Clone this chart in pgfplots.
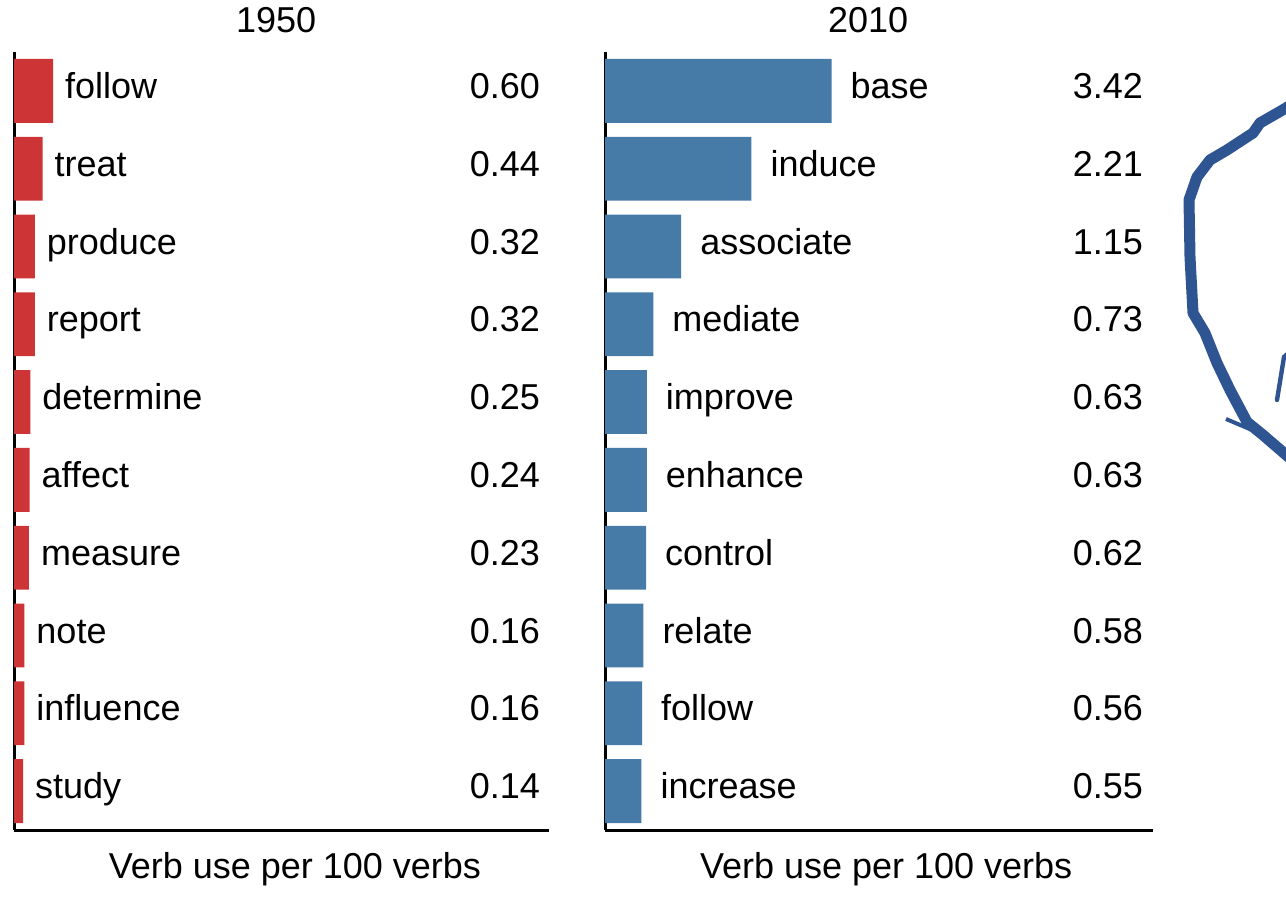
\documentclass[border=0pt]{standalone}
\usepackage{fontspec}
\setmainfont{Liberation Sans}
\usepackage{pgfplots}
\usepackage{pgfplotstable}
\pgfplotsset{compat=1.18}
\definecolor{barred}{RGB}{204,52,54}
\definecolor{barblue}{RGB}{70,122,167}
\definecolor{penblue}{RGB}{47,84,146}
\newcommand\myfont{\fontsize{18}{21.6}\selectfont}

\pgfplotstableread{
y v w
0 0.60 follow
1 0.44 treat
2 0.32 produce
3 0.32 report
4 0.25 determine
5 0.24 affect
6 0.23 measure
7 0.16 note
8 0.16 influence
9 0.14 study
}\leftdata

\pgfplotstableread{
y v w
0 3.42 base
1 2.21 induce
2 1.15 associate
3 0.73 mediate
4 0.63 improve
5 0.63 enhance
6 0.62 control
7 0.58 relate
8 0.56 follow
9 0.55 increase
}\rightdata

\tikzset{lbl/.style={font=\myfont, text height=13.2pt, text depth=3.8pt, black}}
\pgfplotsset{
  panel/.style={
    scale only axis, height=389pt,
    ymin=-0.5, ymax=9.5, y dir=reverse, xmin=0,
    axis x line=bottom, axis y line=left,
    axis line style={-, line width=1.5pt, black},
    xtick=\empty, ytick=\empty, clip=false, anchor=south west,
    font=\myfont,
  },
}

\begin{document}
\begin{tikzpicture}
\useasboundingbox (0,0) rectangle (643pt,449.5pt);

\begin{axis}[panel, at={(7pt,34.5pt)}, width=267.5pt, xmax=8.23]
\addplot[xbar, bar width=0.82, fill=barred, draw=none,
  nodes near coords, point meta=explicit symbolic,
  every node near coord/.append style={lbl, anchor=west, xshift=2.5pt, yshift=0.9pt}]
  table[x=v, y=y, meta=w]{\leftdata};
\addplot[draw=none, mark=none,
  nodes near coords, point meta=explicit symbolic,
  every node near coord/.append style={lbl, anchor=east, xshift=-1pt, yshift=0.9pt}]
  table[x expr=8.23, y=y, meta=v]{\leftdata};
\node[anchor=base, font=\myfont] at (axis description cs:0.49,1) [yshift=9.5pt] {1950};
\node[anchor=base, font=\myfont] at (axis description cs:0.525,0) [yshift=-24pt] {Verb use per 100 verbs};
\end{axis}

\begin{axis}[panel, at={(302.5pt,34.5pt)}, width=274pt, xmax=8.27]
\addplot[xbar, bar width=0.82, fill=barblue, draw=none,
  nodes near coords, point meta=explicit symbolic,
  every node near coord/.append style={lbl, anchor=west, xshift=6pt, yshift=0.9pt}]
  table[x=v, y=y, meta=w]{\rightdata};
\addplot[draw=none, mark=none,
  nodes near coords, point meta=explicit symbolic,
  every node near coord/.append style={lbl, anchor=east, xshift=-1.5pt, yshift=0.9pt}]
  table[x expr=8.27, y=y, meta=v]{\rightdata};
\node[anchor=base, font=\myfont] at (axis description cs:0.48,1) [yshift=9.5pt] {2010};
\node[anchor=base, font=\myfont] at (axis description cs:0.513,0) [yshift=-24pt] {Verb use per 100 verbs};
\end{axis}

\begin{scope}[shift={(0pt,449.5pt)}, x=0.5pt, y=-0.5pt]
\draw[penblue, line width=5.5pt, line join=round, line cap=round]
  (1292,104) -- (1286,108) -- (1260,123) -- (1253,133) -- (1227,150) -- (1210,160)
  -- (1197,177) -- (1189,200) -- (1190,257) -- (1193,313) -- (1205,333)
  -- (1217,363) -- (1230,390) -- (1247,422) -- (1263,435) -- (1292,460);
\draw[penblue, line width=2pt] (1226,419) -- (1252,430);
\draw[penblue, line width=2.2pt, line cap=round] (1277,400) -- (1284,357) -- (1292,350);
\end{scope}
\end{tikzpicture}
\end{document}
